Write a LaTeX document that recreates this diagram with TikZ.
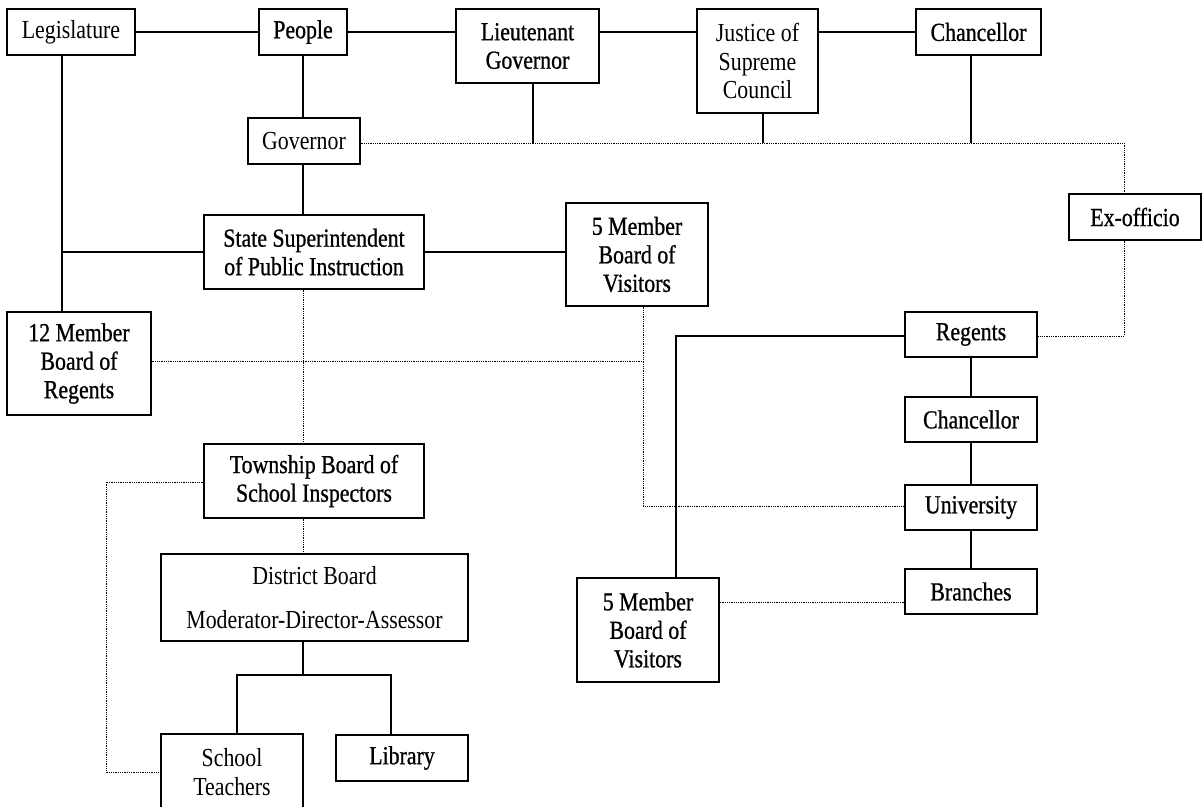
\documentclass[tikz,border=0pt]{standalone}
\usepackage{fontspec}
\setmainfont{Liberation Serif}[FakeStretch=0.84]
\newfontfamily\heavyfont{Liberation Serif}[FakeStretch=0.84,FakeBold=0.8]
\begin{document}
\begin{tikzpicture}[x=1pt,y=-1pt,
  box/.style={draw, line width=1.3pt, inner sep=0pt, align=center,
    font=\fontsize{26}{28.5}\selectfont},
  hv/.style={box, font=\heavyfont\fontsize{26}{28.5}\selectfont},
  link/.style={line width=1.2pt},
  dots/.style={line width=1pt, dash pattern=on 1pt off 0.8pt}]
\useasboundingbox (0,0) rectangle (1202,806);

% top row
\node[box, minimum width=128pt, minimum height=46pt] (leg) at (71,32) {Legislature};
\node[hv,  minimum width=88pt,  minimum height=46pt] (ppl) at (303,32) {People};
\node[hv,  minimum width=143pt, minimum height=74pt] (ltg) at (527.5,46) {Lieutenant\\Governor};
\node[box, minimum width=121pt, minimum height=104pt] (jus) at (757.5,61) {Justice of\\Supreme\\Council};
\node[hv,  minimum width=125pt, minimum height=46pt] (chc) at (978.5,32) {Chancellor};

% state level
\node[box, minimum width=112pt, minimum height=46pt] (gov) at (304,141) {Governor};
\node[hv,  minimum width=132pt, minimum height=46pt] (exo) at (1135,217) {Ex-officio};
\node[hv,  minimum width=220pt, minimum height=74pt] (ssp) at (314,252) {State Superintendent\\of Public Instruction};
\node[hv,  minimum width=142pt, minimum height=103pt] (fmb) at (637,254.5) {5 Member\\Board of\\Visitors};
\node[hv,  minimum width=144pt, minimum height=103pt] (twelve) at (79,363.5) {12 Member\\Board of\\Regents};

% university column
\node[hv, minimum width=132pt, minimum height=45pt] (reg) at (971,334.5) {Regents};
\node[hv, minimum width=132pt, minimum height=45pt] (chr) at (971,419.5) {Chancellor};
\node[hv, minimum width=132pt, minimum height=45pt] (uni) at (971,507.5) {University};
\node[hv, minimum width=132pt, minimum height=45pt] (bra) at (971,591.5) {Branches};
\node[hv, minimum width=142pt, minimum height=104pt] (fml) at (648,630) {5 Member\\Board of\\Visitors};

% township and district
\node[hv,  minimum width=220pt, minimum height=74pt] (twp) at (314,481) {Township Board of\\School Inspectors};
\node[box, minimum width=307pt, minimum height=87pt] (dis) at (314.5,597.5) {District Board\\[15.5pt]Moderator-Director-Assessor};
\node[box, minimum width=142pt, minimum height=76pt] (sch) at (232,772) {School\\Teachers};
\node[hv,  minimum width=132pt, minimum height=46pt] (lib) at (402,758) {Library};

% junction points
\coordinate (bus) at (1124,143);
\coordinate (ltgfoot) at (533,143);
\coordinate (jusfoot) at (763,143);
\coordinate (chcfoot) at (971,143);
\coordinate (legx) at (62,252);
\coordinate (midx) at (643,361);
\coordinate (uniturn) at (643,506);
\coordinate (loopx) at (106,482);
\coordinate (regturn) at (676,336);
\coordinate (exoturn) at (1124,336);
\coordinate (brdot) at (905,602);
\coordinate (fork) at (303,675);
\coordinate (forkL) at (237,675);
\coordinate (forkR) at (391,675);

% solid connectors
\draw[link] (leg.east) -- (ppl.west);
\draw[link] (ppl.east) -- (ppl.east -| ltg.west);
\draw[link] (ltg.east |- ppl.east) -- (jus.west |- ppl.east);
\draw[link] (jus.east |- chc.west) -- (chc.west);
\draw[link] (ltg.south -| ltgfoot) -- (ltgfoot);
\draw[link] (jus.south -| jusfoot) -- (jusfoot);
\draw[link] (chc.south -| chcfoot) -- (chcfoot);
\draw[link] (ppl.south) -- (ppl.south |- gov.north);
\draw[link] (gov.south -| ppl.south) -- (ppl.south |- ssp.north);
\draw[link] (leg.south -| legx) -- (legx |- twelve.north);
\draw[link] (legx) -- (legx -| ssp.west);
\draw[link] (ssp.east) -- (ssp.east -| fmb.west);
\draw[link] (reg.west |- regturn) -- (regturn) -- (regturn |- fml.north);
\draw[link] (reg) -- (chr);
\draw[link] (chr) -- (uni);
\draw[link] (uni) -- (bra);
\draw[link] (dis.south -| fork) -- (fork);
\draw[link] (forkL |- sch.north) -- (forkL) -- (forkR) -- (forkR |- lib.north);

% dotted connectors
\draw[dots] ([yshift=-2pt]gov.east) -- (bus) -- (bus |- exo.north);
\draw[dots] (exo.south -| exoturn) -- (exoturn) -- (exoturn -| reg.east);
\draw[dots] (twelve.east |- midx) -- (midx);
\draw[dots] (fmb.south -| midx) -- (uniturn) -- (uniturn -| uni.west);
\draw[dots] (ssp.south -| ppl.south) -- (ppl.south |- twp.north);
\draw[dots] (twp.south -| ppl.south) -- (ppl.south |- dis.north);
\draw[dots] (twp.west |- loopx) -- (loopx) -- (loopx |- sch.west) -- (sch.west);
\draw[dots] (bra.west |- brdot) -- (brdot -| fml.east);
\end{tikzpicture}
\end{document}
